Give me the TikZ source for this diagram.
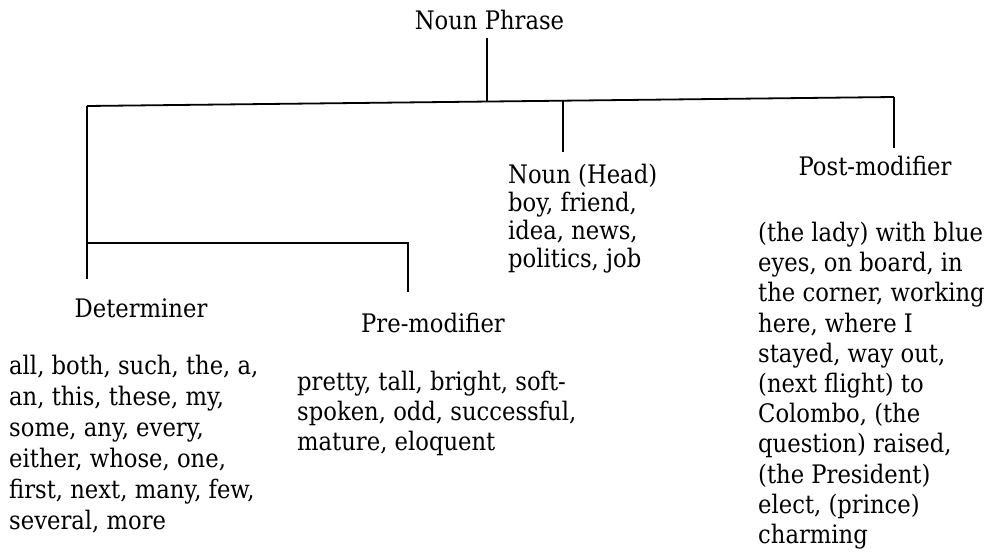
\documentclass[tikz,border=0pt]{standalone}
\usepackage{fontspec}
\setmainfont{DejaVu Serif}[FakeStretch=0.89]
\begin{document}
\begin{tikzpicture}[x=1pt,y=-1pt,
  txt/.style={inner sep=0pt,font=\fontsize{25.5}{30}\selectfont},
  ttl/.style={txt,anchor=base},
  lst/.style={txt,anchor=base west},
  branch/.style={line width=1.8pt,line cap=butt}]
\useasboundingbox (0,0) rectangle (992,551);
% titles
\node[ttl] (np) at (489.5,30) {Noun Phrase};
\node[ttl] (det) at (141,317) {Determiner};
\node[ttl] (pre) at (433,332) {Pre-modifier};
\node[lst] (noun) at (508,183) {Noun (Head)};
\node[ttl] (post) at (875,175) {Post-modifier};
% determiner list
\node[lst] (d1) at (9,374) {all, both, such, the, a,};
\node[lst] (d2) at (9,405) {an, this, these, my,};
\node[lst] (d3) at (9,436) {some, any, every,};
\node[lst] (d4) at (9,467) {either, whose, one,};
\node[lst] (d5) at (9,498) {first, next, many, few,};
\node[lst] (d6) at (9,529) {several, more};
% pre-modifier list
\node[lst] (p1) at (297,390) {pretty, tall, bright, soft-};
\node[lst] (p2) at (297,420) {spoken, odd, successful,};
\node[lst] (p3) at (297,450) {mature, eloquent};
% noun list
\node[lst] (n1) at (508,211) {boy, friend,};
\node[lst] (n2) at (508,239) {idea, news,};
\node[lst] (n3) at (508,267) {politics, job};
% post-modifier list
\node[lst] (q1) at (758,241) {(the lady) with blue};
\node[lst] (q2) at (758,271) {eyes, on board, in};
\node[lst] (q3) at (758,301) {the corner, working};
\node[lst] (q4) at (758,332) {here, where I};
\node[lst] (q5) at (758,362) {stayed, way out,};
\node[lst] (q6) at (758,392) {(next flight) to};
\node[lst] (q7) at (758,422) {Colombo, (the};
\node[lst] (q8) at (758,452) {question) raised,};
\node[lst] (q9) at (758,483) {(the President)};
\node[lst] (q10) at (758,513) {elect, (prince)};
\node[lst] (q11) at (758,543) {charming};
% junctions
\coordinate (npb) at (487,38);
\coordinate (jL) at (87,106);
\coordinate (jR) at (894,97);
\coordinate (jM) at (487,101.5);
\coordinate (jN) at (563,100.7);
\coordinate (jD) at (87,243);
\coordinate (jP) at (408,243);
\coordinate (detT) at (87,279);
\coordinate (preT) at (408,292);
\coordinate (nounT) at (563,152);
\coordinate (postT) at (894,148);
% branches
\draw[branch] (npb) -- (jM);
\draw[branch] (jL) -- (jR);
\draw[branch] (jL) -- (detT);
\draw[branch] (jD) -- (jP) -- (preT);
\draw[branch] (jN) -- (nounT);
\draw[branch] (jR) -- (postT);
\end{tikzpicture}
\end{document}
